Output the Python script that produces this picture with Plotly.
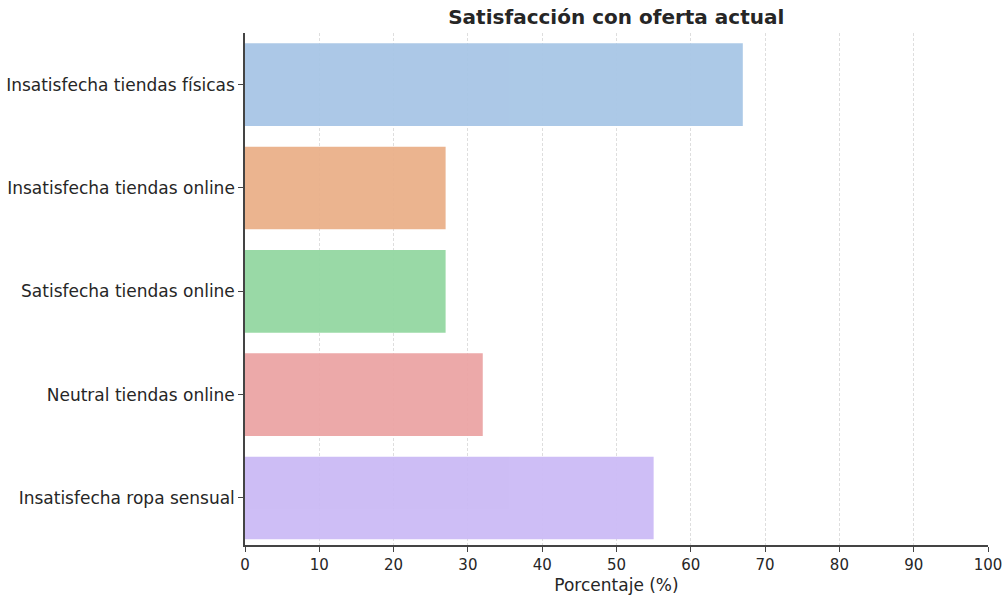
import plotly.graph_objects as go

categories = [
    "Insatisfecha tiendas físicas",
    "Insatisfecha tiendas online",
    "Satisfecha tiendas online",
    "Neutral tiendas online",
    "Insatisfecha ropa sensual",
]
values = [67, 27, 27, 32, 55]
bar_colors = ["#a8c6e6", "#eab08a", "#94d8a2", "#eca5a5", "#cbbaf5"]
x_ticks = list(range(0, 101, 10))

fig = go.Figure()
fig.add_trace(
    go.Bar(
        x=values,
        y=categories,
        orientation="h",
        width=0.8,
        marker=dict(color=bar_colors, line=dict(width=0)),
        opacity=0.95,
        showlegend=False,
    )
)

font = "DejaVu Sans, Verdana, sans-serif"
fig.update_layout(
    width=1007,
    height=595,
    paper_bgcolor="white",
    plot_bgcolor="white",
    margin=dict(l=245, r=19, t=33, b=50),
    font=dict(family=font, size=14, color="#262626"),
    title=dict(
        text="<b>Satisfacción con oferta actual</b>",
        x=0.612,
        xanchor="center",
        xref="container",
        yref="container",
        y=1 - 17 / 595,
        yanchor="middle",
        font=dict(size=20, color="#262626"),
    ),
    bargap=0.2,
)
fig.update_xaxes(
    range=[0, 100],
    tickvals=x_ticks,
    ticks="outside",
    ticklen=5,
    tickcolor="#444444",
    showline=True,
    linecolor="#444444",
    linewidth=1.5,
    showgrid=True,
    gridcolor="#dedede",
    griddash="3px,2px",
    gridwidth=1,
    zeroline=False,
    automargin=False,
    title=dict(text="Porcentaje (%)", font=dict(size=17), standoff=6),
    tickfont=dict(size=15),
)
fig.update_yaxes(
    categoryorder="array",
    categoryarray=categories,
    range=[4.455, -0.5],
    ticks="outside",
    ticklen=5,
    tickcolor="#444444",
    showline=True,
    linecolor="#444444",
    linewidth=1.5,
    showgrid=False,
    zeroline=False,
    automargin=False,
    tickfont=dict(size=17),
)

# the page's default body margin would shift the figure by 8px
fig.write_html(
    "out.html",
    config={"displayModeBar": False},
    post_script="document.body.style.margin='0';",
)
